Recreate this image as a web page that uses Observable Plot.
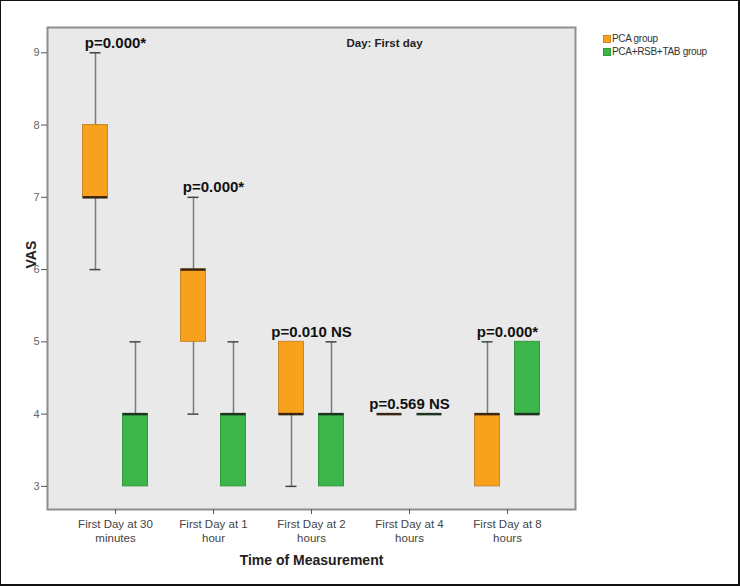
<!DOCTYPE html>
<html>
<head>
<meta charset="utf-8">
<script src="https://cdn.jsdelivr.net/npm/d3@7"></script>
<script src="https://cdn.jsdelivr.net/npm/@observablehq/plot@0.6"></script>
<style>
  html, body { margin: 0; padding: 0; background: #fff; }
  #wrap { position: relative; width: 740px; height: 586px; overflow: hidden; font-family: "Liberation Sans", Arial, sans-serif; }
  #border { position: absolute; left: 0; top: 0; width: 740px; height: 586px; box-sizing: border-box;
            border-left: 1px solid #111; border-top: 1px solid #111; border-right: 2px solid #111; border-bottom: 2px solid #111; pointer-events: none; }
  #legend { position: absolute; left: 603px; top: 32px; font-size: 10px; color: #333; letter-spacing: -0.3px; line-height: 13px; }
  #legend .item { display: flex; align-items: center; height: 13px; }
  #legend .sw { width: 8px; height: 8px; margin-right: 1px; box-sizing: border-box; }
</style>
</head>
<body>
<div id="wrap">
  <div id="chart"></div>
  <div id="legend"></div>
  <div id="border"></div>
</div>
<script>
// ---- data ----
const categories = ["First Day at 30\nminutes", "First Day at 1\nhour", "First Day at 2\nhours", "First Day at 4\nhours", "First Day at 8\nhours"];
const groups = ["PCA group", "PCA+RSB+TAB group"];
const groupColors = ["#f7a11c", "#3cb54a"];
const groupStrokes = ["#c7862a", "#2d9a3c"];
const medianColors = ["#3a2610", "#1c3320"];

const pcaMin = [6, 4, 3, 4, 3];
const pcaQ1  = [7, 5, 4, 4, 3];
const pcaMed = [7, 6, 4, 4, 4];
const pcaQ3  = [8, 6, 5, 4, 4];
const pcaMax = [9, 7, 5, 4, 5];

const comboMin = [3, 3, 3, 4, 4];
const comboQ1  = [3, 3, 3, 4, 4];
const comboMed = [4, 4, 4, 4, 4];
const comboQ3  = [4, 4, 4, 4, 5];
const comboMax = [5, 5, 5, 4, 5];

const pLabels = ["p=0.000*", "p=0.000*", "p=0.010 NS", "p=0.569 NS", "p=0.000*"];
const yTicks = [3, 4, 5, 6, 7, 8, 9];
const dayTitle = "Day: First day";
const xTitle = "Time of Measurement";
const yTitle = "VAS";

// ---- build tables ----
const stats = [
  {min: pcaMin, q1: pcaQ1, med: pcaMed, q3: pcaQ3, max: pcaMax},
  {min: comboMin, q1: comboQ1, med: comboMed, q3: comboQ3, max: comboMax}
];
const tables = stats.map((s, g) => categories.map((c, i) => ({
  cat: c, group: groups[g], min: s.min[i], q1: s.q1[i], med: s.med[i], q3: s.q3[i], max: s.max[i]
})));
const annot = categories.map((c, i) => ({cat: c, label: pLabels[i], y: Math.max(pcaMax[i], comboMax[i])}));

const offsets = [-20, 20];
const boxInset = 36.5;
const capInset = 43.5;

const marks = [
  Plot.frame({fill: "#e9e9e9", stroke: "#8e8e8e", strokeWidth: 2})
];
tables.forEach((rows, g) => {
  const dx = offsets[g];
  marks.push(
    Plot.ruleX(rows.filter(d => d.max > d.min), {x: "cat", y1: "min", y2: "max", dx, stroke: "#7b7b7b", strokeWidth: 1.5}),
    Plot.tickY(rows.filter(d => d.min < d.q1), {x: "cat", y: "min", dx, insetLeft: capInset, insetRight: capInset, stroke: "#444", strokeWidth: 1.5}),
    Plot.tickY(rows.filter(d => d.max > d.q3), {x: "cat", y: "max", dx, insetLeft: capInset, insetRight: capInset, stroke: "#444", strokeWidth: 1.5}),
    Plot.barY(rows.filter(d => d.q3 > d.q1), {x: "cat", y1: "q1", y2: "q3", dx, insetLeft: boxInset, insetRight: boxInset, fill: groupColors[g], stroke: groupStrokes[g], strokeWidth: 1}),
    Plot.tickY(rows, {x: "cat", y: "med", dx, insetLeft: boxInset, insetRight: boxInset, stroke: medianColors[g], strokeWidth: 2.5})
  );
});
marks.push(
  Plot.text(annot, {x: "cat", y: "y", text: "label", dy: -10, fontSize: 15, fontWeight: "bold", fill: "#111", style: "letter-spacing:-0.4px"}),
  Plot.text([dayTitle], {frameAnchor: "top", dx: 73, dy: 16, text: d => d, fontSize: 11.5, fontWeight: "bold", fill: "#222", lineAnchor: "middle"}),
  Plot.text([yTitle], {frameAnchor: "left", dx: -16, rotate: -90, text: d => d, fontSize: 14, fontWeight: "bold", fill: "#222"}),
  Plot.text([xTitle], {frameAnchor: "bottom", dy: 51, text: d => d, fontSize: 14, fontWeight: "bold", fill: "#222", lineAnchor: "middle"}),
  Plot.axisY({ticks: yTicks, tickFormat: d3.format("d"), tickSize: 6, tickPadding: 2, fontSize: 11, color: "#666", stroke: "#555", label: null}),
  Plot.axisX({tickSize: 5, tickPadding: 3, fontSize: 11.5, lineHeight: 1.25, color: "#444", stroke: "#555", label: null})
);

const chart = Plot.plot({
  width: 740,
  height: 586,
  marginLeft: 47,
  marginRight: 165,
  marginTop: 27,
  marginBottom: 77,
  style: {fontFamily: "'Liberation Sans', Arial, sans-serif", background: "transparent"},
  x: {domain: categories, type: "band", paddingInner: 0, paddingOuter: 0.167},
  y: {domain: [2.68, 9.35]},
  marks
});
document.getElementById("chart").appendChild(chart);

// legend
const legend = document.getElementById("legend");
groups.forEach((g, i) => {
  const item = document.createElement("div");
  item.className = "item";
  const sw = document.createElement("span");
  sw.className = "sw";
  sw.style.background = groupColors[i];
  sw.style.border = "1px solid " + groupStrokes[i];
  const t = document.createElement("span");
  t.textContent = g;
  item.appendChild(sw);
  item.appendChild(t);
  legend.appendChild(item);
});
</script>
</body>
</html>
